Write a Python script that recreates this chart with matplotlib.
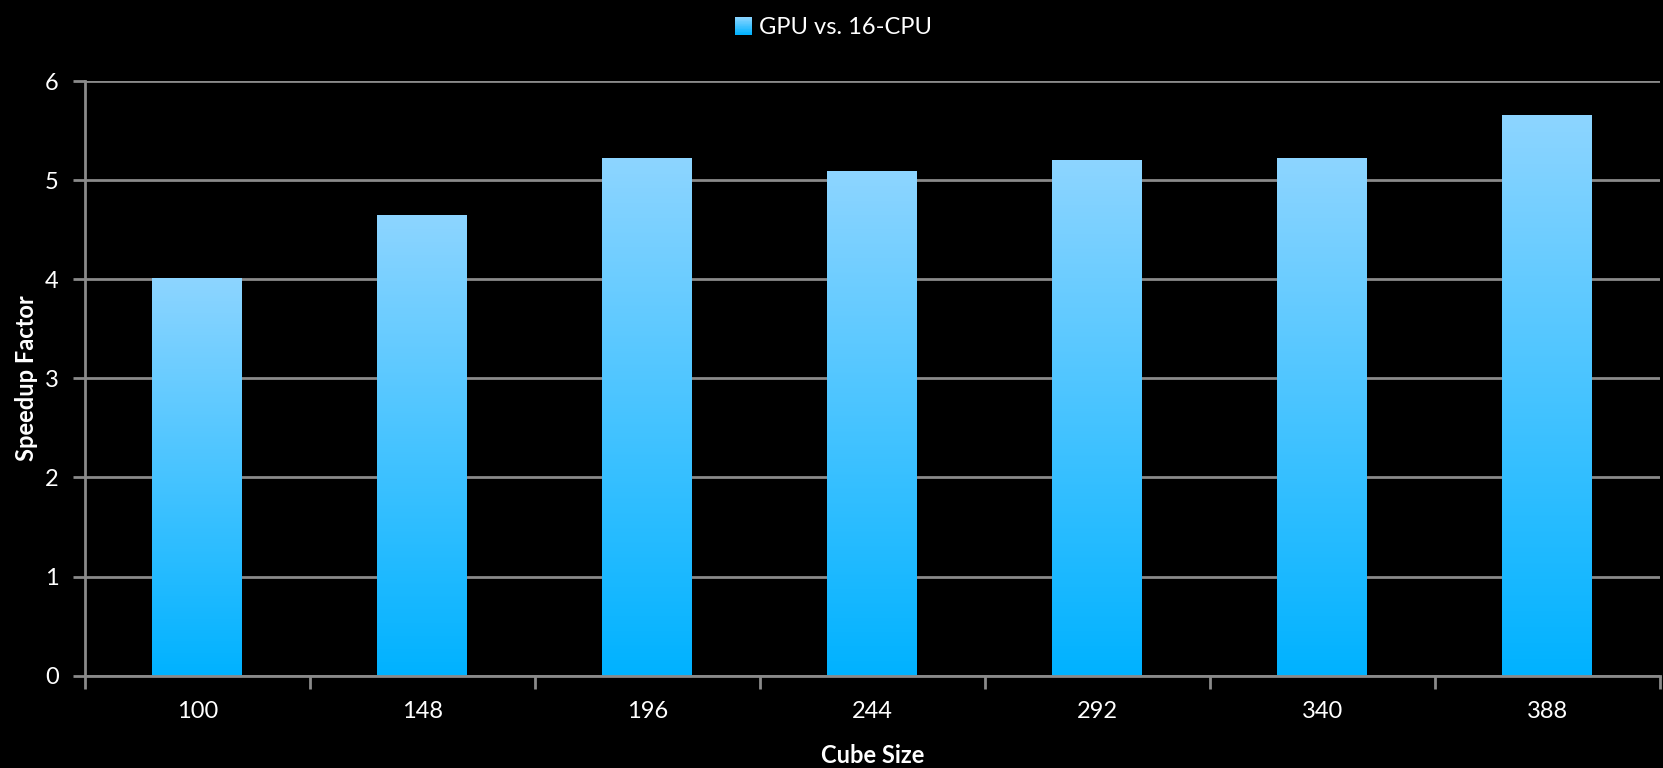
import numpy as np
import matplotlib
matplotlib.use("Agg")
import matplotlib.pyplot as plt
from matplotlib.colors import LinearSegmentedColormap
from matplotlib.legend_handler import HandlerPatch
from matplotlib.patches import Patch, Rectangle

plt.rcParams['font.family'] = ['Lato', 'DejaVu Sans']

# Data
cube_sizes = ["100", "148", "196", "244", "292", "340", "388"]
speedup = [4.01, 4.65, 5.22, 5.09, 5.20, 5.22, 5.66]
series_name = "GPU vs. 16-CPU"

TOP = "#8dd5ff"
BOTTOM = "#00b2ff"
GRID = "#8a8a8a"
TEXT = "white"
cmap = LinearSegmentedColormap.from_list("bluegrad", [BOTTOM, TOP])

fig = plt.figure(figsize=(16.63, 7.68), dpi=100, facecolor="black")
ax = fig.add_axes([0.0511, 0.1202, 0.9469, 0.7743], facecolor="black")

x = np.arange(len(cube_sizes))
width = 0.40
bars = ax.bar(x, speedup, width=width, color="none", edgecolor="none", zorder=3)

# vertical gradient inside each bar, light at the top, saturated at the base
grad = np.linspace(1, 0, 256).reshape(-1, 1)
for b in bars:
    x0, y0 = b.get_x(), b.get_y()
    ax.imshow(grad, cmap=cmap, aspect="auto", interpolation="bicubic",
              extent=[x0, x0 + b.get_width(), y0, y0 + b.get_height()],
              zorder=3, vmin=0, vmax=1)

ax.set_xlim(-0.5, len(cube_sizes) - 0.5)
ax.set_ylim(0, 6)
ax.set_yticks(range(0, 7))
ax.set_xticks(x)
ax.set_xticklabels(cube_sizes)
ax.set_xticks(np.arange(-0.5, len(cube_sizes) - 0.4, 1.0), minor=True)

ax.yaxis.grid(True, color=GRID, linewidth=2, zorder=1)
ax.set_axisbelow(True)

for side in ("top", "right"):
    ax.spines[side].set_visible(False)
for side in ("left", "bottom"):
    ax.spines[side].set_color(GRID)
    ax.spines[side].set_linewidth(2)
    ax.spines[side].set_zorder(4)

ax.tick_params(axis="y", colors=GRID, labelcolor=TEXT, labelsize=17,
               length=9, width=2, direction="out", pad=10)
ax.tick_params(axis="x", which="major", length=0, labelcolor=TEXT,
               labelsize=17, pad=18)
ax.tick_params(axis="x", which="minor", colors=GRID, length=9, width=2,
               direction="out")

ax.set_xlabel("Cube Size", color=TEXT, fontsize=17, fontweight="bold", labelpad=16)
ax.set_ylabel("Speedup Factor", color=TEXT, fontsize=17, fontweight="bold", labelpad=5)


class GradientSwatch(HandlerPatch):
    def create_artists(self, legend, orig_handle, xdescent, ydescent,
                       width, height, fontsize, trans):
        n = 24
        side = min(width, height) * 1.05
        left = -xdescent + (width - side)
        bottom = -ydescent + (height - side) / 2
        strips = []
        for i in range(n):
            c = cmap(1 - (i + 0.5) / n)
            strips.append(Rectangle((left, bottom + side * (n - i - 1) / n),
                                    side, side / n + 0.3, facecolor=c,
                                    edgecolor="none", transform=trans))
        return strips


handle = Patch(facecolor=BOTTOM, label=series_name)
leg = fig.legend(handles=[handle], loc="upper center",
                 bbox_to_anchor=(0.5, 1.005), frameon=False, fontsize=17,
                 labelcolor=TEXT, handler_map={Patch: GradientSwatch()},
                 handlelength=0.9, handletextpad=0.3)

fig.savefig("out.png", dpi=100, facecolor="black")
